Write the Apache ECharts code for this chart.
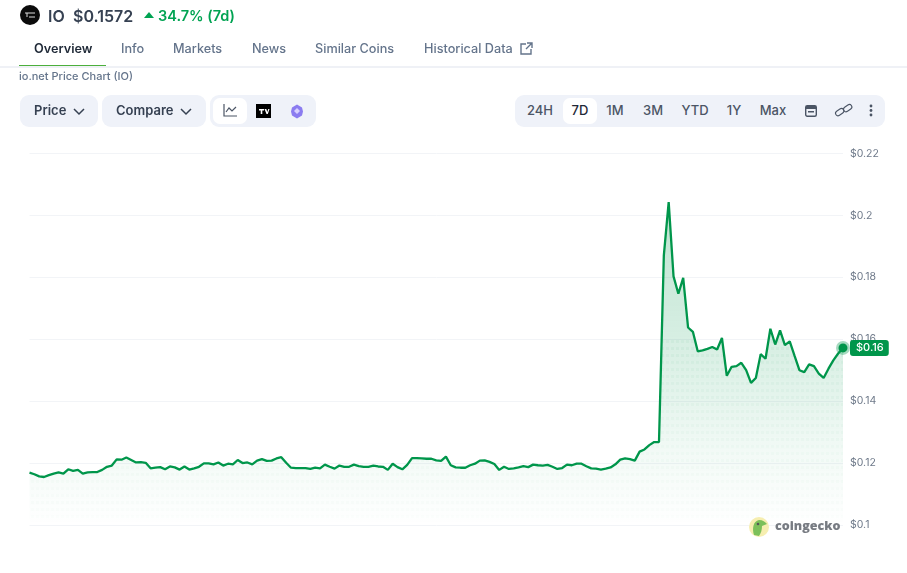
<!DOCTYPE html>
<html>
<head>
<meta charset="utf-8">
<title>io.net Price Chart (IO)</title>
<script src="https://cdn.jsdelivr.net/npm/echarts@6/dist/echarts.min.js"></script>
<style>
    html, body { margin: 0; padding: 0; background: #fff; }
    body { width: 907px; height: 573px; overflow: hidden; position: relative; font-family: Inter, 'Noto Sans', sans-serif; }
    #main { position: absolute; left: 0; top: 0; width: 907px; height: 573px; }
    .t { position: absolute; white-space: nowrap; line-height: 1; }
    .tab { top: 42.500px; font-size: 12.700px; font-weight: 500; color: #64748b; }
    .box { position: absolute; background: #eff2f9; border-radius: 9px; }
    .white { position: absolute; background: #fff; border-radius: 7px; }
    .btn { top: 104px; font-size: 13px; font-weight: 600; color: #364152; }
    .range { top: 104px; font-size: 13px; font-weight: 500; color: #4b5565; transform: translateX(-50%); }
    svg { position: absolute; overflow: visible; }
</style>
</head>
<body>
<div id="main"></div>

<!-- header -->
<svg style="left:20px;top:5px" width="20" height="20"><circle cx="10" cy="10" r="10" fill="#0b0b0b"/><path d="M5 8h10M7 8v4M9 12h6" stroke="#ddd" stroke-width="1" fill="none"/></svg>
<span class="t" style="left:48px;top:8px;font-size:16px;font-weight:600;color:#364152">IO</span>
<span class="t" style="left:73px;top:8px;font-size:16px;font-weight:600;color:#364152">$0.1572</span>
<svg style="left:144px;top:12px" width="11" height="7"><path d="M0 6L5 0L10 6Z" fill="#00a352"/></svg>
<span class="t" style="left:158px;top:9px;font-size:14.500px;font-weight:600;color:#00a352">34.7% (7d)</span>

<!-- tabs -->
<span class="t tab" style="left:34px;color:#1f2937;font-weight:600">Overview</span>
<span class="t tab" style="left:121px">Info</span>
<span class="t tab" style="left:173px">Markets</span>
<span class="t tab" style="left:252px">News</span>
<span class="t tab" style="left:315px">Similar Coins</span>
<span class="t tab" style="left:424px">Historical Data</span>
<svg style="left:520px;top:42px" width="13" height="13" fill="none" stroke="#64748b" stroke-width="1.400"><path d="M6 2H1v10h10V7M7 1h5v5M12 1L6 7"/></svg>
<div style="position:absolute;left:0;top:66px;width:907px;height:2px;background:#eff1f6"></div>
<div style="position:absolute;left:19px;top:65px;width:87px;height:1px;background:#4caf3c"></div>
<span class="t" style="left:19px;top:71px;font-size:11px;font-weight:500;color:#64748b">io.net Price Chart (IO)</span>

<!-- left toolbar -->
<div class="box" style="left:20px;top:95px;width:78px;height:32px"></div>
<div class="box" style="left:102px;top:95px;width:104px;height:32px"></div>
<div class="box" style="left:210px;top:95px;width:106px;height:32px"></div>
<div class="white" style="left:213px;top:98px;width:34px;height:26px"></div>
<span class="t btn" style="left:34px">Price</span>
<svg style="left:73px;top:108px" width="12" height="7" fill="none" stroke="#364152" stroke-width="1.500"><path d="M1 1l5 5 5-5"/></svg>
<span class="t btn" style="left:116px">Compare</span>
<svg style="left:180px;top:108px" width="12" height="7" fill="none" stroke="#364152" stroke-width="1.500"><path d="M1 1l5 5 5-5"/></svg>
<svg style="left:223px;top:104px" width="14" height="13" fill="none" stroke="#4b5565" stroke-width="1.200"><path d="M1 0v12h13M3 8l3-4 3 3 4-4"/></svg>
<svg style="left:256px;top:104px" width="15" height="14"><rect width="15" height="14" fill="#000"/><path d="M3 5h5v1.500H6.300V10H4.700V6.500H3ZM8.500 5h1.800l1 3 1-3H13.500l-1.700 5h-1.300Z" fill="#fff"/></svg>
<svg style="left:290px;top:104px" width="14" height="15"><path d="M7 0.500l5 3 1 4-1 4-5 3-5-3-1-4 1-4Z" fill="#8b7cf0"/><path d="M7 4l3 3-3 3-3-3Z" fill="#d7d0ff"/></svg>

<!-- range toolbar -->
<div class="box" style="left:515px;top:95px;width:370px;height:32px"></div>
<div class="white" style="left:563px;top:98px;width:34px;height:26px"></div>
<span class="t range" style="left:540px">24H</span>
<span class="t range" style="left:580px;color:#1f2937">7D</span>
<span class="t range" style="left:615px">1M</span>
<span class="t range" style="left:653px">3M</span>
<span class="t range" style="left:695px">YTD</span>
<span class="t range" style="left:734px">1Y</span>
<span class="t range" style="left:773px">Max</span>
<svg style="left:805px;top:104px" width="12" height="13"><rect x="0.700" y="1.700" width="10.600" height="10.600" rx="1.500" fill="none" stroke="#4b5565" stroke-width="1.400"/><rect x="1" y="2" width="10" height="3" fill="#4b5565"/><rect x="3" y="7" width="6" height="1.500" fill="#4b5565"/></svg>
<svg style="left:836px;top:104px" width="15" height="13" fill="none" stroke="#4b5565" stroke-width="1.100"><rect x="-1" y="6" width="9" height="5" rx="2.500" transform="rotate(-35 3 8)"/><rect x="7" y="2" width="9" height="5" rx="2.500" transform="rotate(-35 11 4)"/></svg>
<svg style="left:869px;top:104px" width="4" height="13" fill="#4b5565"><circle cx="2" cy="2" r="1.400"/><circle cx="2" cy="6.500" r="1.400"/><circle cx="2" cy="11" r="1.400"/></svg>

<!-- watermark -->
<svg style="left:749px;top:517px" width="20" height="20"><circle cx="10" cy="10" r="10" fill="#f6eeb0"/><path d="M5 18C3 12 4 4 10 3c4 0 6 2 8 4l-5 2c0 4-1 7-3 10Z" fill="#7cc05a"/><circle cx="9" cy="7" r="1.300" fill="#555"/></svg>
<span class="t" style="left:775px;top:520px;font-family:'Open Sans',sans-serif;font-size:12.500px;font-weight:800;color:#777b82">coingecko</span>

<script>
    // hourly prices over the 7 days
    var prices = [
        0.1169, 0.1164, 0.1157, 0.1155, 0.1161, 0.1166, 0.1170, 0.1166, 0.1180, 0.1175,
        0.1178, 0.1166, 0.1170, 0.1171, 0.1171, 0.1178, 0.1188, 0.1192, 0.1212, 0.1211,
        0.1218, 0.1210, 0.1202, 0.1203, 0.1201, 0.1183, 0.1185, 0.1187, 0.1180, 0.1189,
        0.1186, 0.1179, 0.1189, 0.1179, 0.1183, 0.1188, 0.1199, 0.1199, 0.1196, 0.1202,
        0.1192, 0.1198, 0.1196, 0.1210, 0.1200, 0.1202, 0.1196, 0.1208, 0.1213, 0.1207,
        0.1208, 0.1215, 0.1219, 0.1201, 0.1185, 0.1184, 0.1184, 0.1184, 0.1181, 0.1185,
        0.1183, 0.1195, 0.1188, 0.1182, 0.1192, 0.1188, 0.1188, 0.1195, 0.1190, 0.1188,
        0.1188, 0.1192, 0.1189, 0.1188, 0.1178, 0.1198, 0.1187, 0.1180, 0.1194, 0.1216,
        0.1216, 0.1215, 0.1214, 0.1214, 0.1209, 0.1207, 0.1221, 0.1193, 0.1186, 0.1185,
        0.1185, 0.1193, 0.1198, 0.1208, 0.1209, 0.1204, 0.1197, 0.1178, 0.1188, 0.1181,
        0.1183, 0.1186, 0.1190, 0.1187, 0.1195, 0.1193, 0.1192, 0.1194, 0.1188, 0.1181,
        0.1184, 0.1195, 0.1193, 0.1198, 0.1198, 0.1190, 0.1183, 0.1182, 0.1179, 0.1182,
        0.1186, 0.1196, 0.1211, 0.1215, 0.1213, 0.1208, 0.1237, 0.1244, 0.1258, 0.1268,
        0.1268, 0.1871, 0.2043, 0.1803, 0.1747, 0.1798, 0.1638, 0.1624, 0.1561, 0.1564,
        0.1569, 0.1575, 0.1567, 0.1604, 0.1482, 0.1511, 0.1513, 0.1524, 0.1500, 0.1459,
        0.1475, 0.1552, 0.1537, 0.1634, 0.1583, 0.1629, 0.1581, 0.1593, 0.1546, 0.1500,
        0.1494, 0.1519, 0.1513, 0.1489, 0.1475, 0.1505, 0.1532, 0.1554, 0.1572
    ];
    var hours = prices.map(function (p, i) { return String(i); });
    var lastPoint = prices.map(function (p, i) { return i === prices.length - 1 ? p : null; });
    var lastLabel = '$0.16';
    var green = '#00964b';

    // dotted texture inside the area, fades towards the bottom of the plot
    var dots = document.createElement('canvas');
    dots.width = 5;
    dots.height = 573;
    var ctx = dots.getContext('2d');
    for (var y = 340; y < 520; y += 7) {
        ctx.fillStyle = 'rgba(0,150,75,' + (0.045 * (1 - (y - 340) / 240)) + ')';
        ctx.fillRect(1, y, 3, 3);
    }

    var myChart = echarts.init(document.getElementById('main'), null, { renderer: 'canvas' });
    myChart.setOption({
        animation: false,
        grid: { left: 29.5, right: 64, top: 153.5, bottom: 48 },
        xAxis: {
            type: 'category',
            data: hours,
            boundaryGap: false,
            show: false
        },
        yAxis: {
            type: 'value',
            position: 'right',
            min: 0.1,
            max: 0.22,
            interval: 0.02,
            axisLine: { show: false },
            axisTick: { show: false },
            splitLine: { lineStyle: { color: '#f2f4f7', width: 1 } },
            axisLabel: {
                margin: 7,
                color: '#6f7a8a',
                fontFamily: 'Inter',
                fontSize: 10.5,
                padding: [4, 0, 0, 0],
                formatter: function (v) { return '$' + parseFloat(v.toFixed(2)); }
            }
        },
        series: [
            {
                type: 'line',
                data: prices,
                symbol: 'none',
                silent: true,
                lineStyle: { width: 0 },
                areaStyle: { color: { image: dots, repeat: 'repeat' }, opacity: 1 },
                z: 3
            },
            {
                type: 'line',
                data: prices,
                symbol: 'none',
                lineStyle: { color: green, width: 2.3 },
                areaStyle: {
                    opacity: 1,
                    color: new echarts.graphic.LinearGradient(0, 0, 0, 1, [
                        { offset: 0, color: 'rgba(0,150,75,0.26)' },
                        { offset: 0.46, color: 'rgba(0,150,75,0.15)' },
                        { offset: 0.77, color: 'rgba(0,150,75,0.05)' },
                        { offset: 1, color: 'rgba(0,150,75,0)' }
                    ])
                },
                z: 4
            },
            {
                type: 'scatter',
                data: lastPoint,
                symbolSize: 9,
                itemStyle: { color: green, opacity: 1, borderColor: 'rgba(0,150,75,0.35)', borderWidth: 5 },
                label: {
                    show: true,
                    position: 'right',
                    distance: 0,
                    formatter: lastLabel,
                    color: '#fff',
                    fontFamily: 'Inter',
                    fontSize: 11,
                    fontWeight: 500,
                    backgroundColor: green,
                    borderRadius: 3,
                    padding: [3, 5, 2, 6]
                },
                z: 5
            }
        ]
    });
</script>
</body>
</html>
